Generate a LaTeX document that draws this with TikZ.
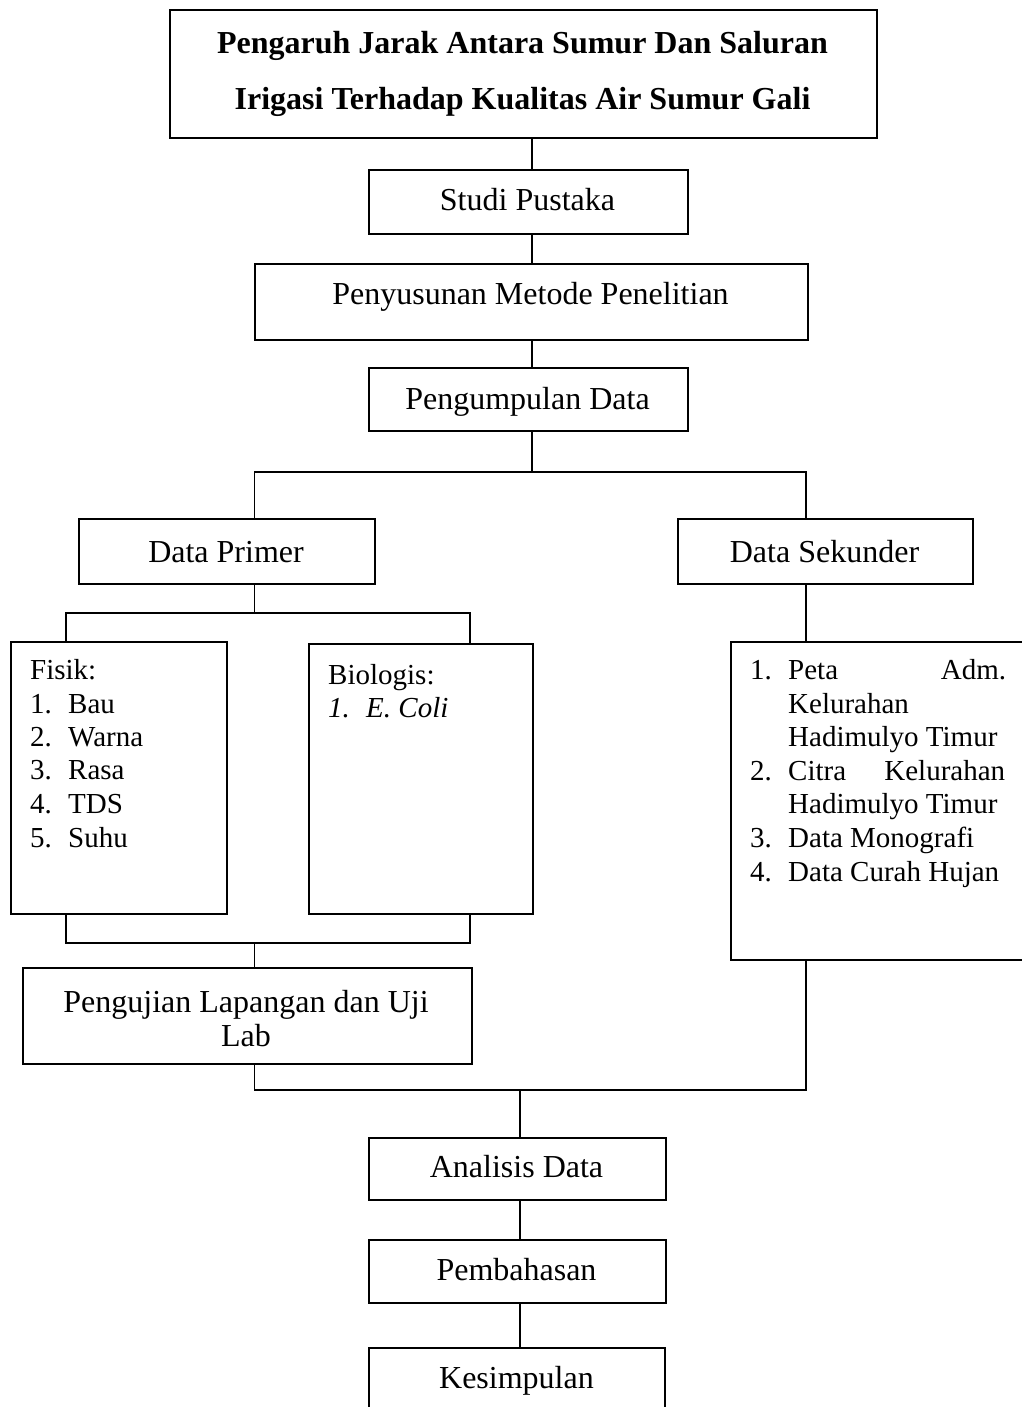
\documentclass[tikz,border=0pt]{standalone}
\usepackage{fontspec}
\setmainfont{Liberation Serif}
\begin{document}
\begin{tikzpicture}[x=1pt,y=-1pt,
  box/.style={draw,line width=1.6pt,inner sep=0pt,anchor=north west},
  conn/.style={line width=1.6pt},
  lbl/.style={inner sep=0pt,anchor=base,font=\fontsize{32}{34}\selectfont},
  ttl/.style={inner sep=0pt,anchor=base,font=\fontsize{32}{34}\selectfont\bfseries},
  itm/.style={inner sep=0pt,anchor=base west,font=\fontsize{29}{34}\selectfont}]
\useasboundingbox (0,0) rectangle (1021,1407);

% boxes
\node[box,minimum width=707pt,minimum height=128pt] (title) at (169,9) {};
\node[box,minimum width=319pt,minimum height=64pt] (studi) at (368,169) {};
\node[box,minimum width=553pt,minimum height=76pt] (penyusunan) at (254,263) {};
\node[box,minimum width=319pt,minimum height=63pt] (pengumpulan) at (368,367) {};
\node[box,minimum width=296pt,minimum height=65pt] (primer) at (78,518) {};
\node[box,minimum width=295pt,minimum height=65pt] (sekunder) at (677,518) {};
\node[box,minimum width=216pt,minimum height=272pt] (fisik) at (10,641) {};
\node[box,minimum width=224pt,minimum height=270pt] (bio) at (308,643) {};
\node[box,minimum width=300pt,minimum height=318pt] (seklist) at (730,641) {};
\node[box,minimum width=449pt,minimum height=96pt] (uji) at (22,967) {};
\node[box,minimum width=297pt,minimum height=62pt] (analisis) at (368,1137) {};
\node[box,minimum width=297pt,minimum height=63pt] (pembahasan) at (368,1239) {};
\node[box,minimum width=296pt,minimum height=100pt] (kesimpulan) at (368,1347) {};

% box texts
\node[ttl] (t-title1) at (522.5,54) {Pengaruh Jarak Antara Sumur Dan Saluran};
\node[ttl] (t-title2) at (522.5,110) {Irigasi Terhadap Kualitas Air Sumur Gali};
\node[lbl] (t-studi) at (527.5,210) {Studi Pustaka};
\node[lbl] (t-peny) at (530.5,304) {Penyusunan Metode Penelitian};
\node[lbl] (t-peng) at (527.5,409) {Pengumpulan Data};
\node[lbl] (t-primer) at (226,562) {Data Primer};
\node[lbl] (t-sekunder) at (824.5,562) {Data Sekunder};
\node[lbl] (t-uji1) at (246,1012) {Pengujian Lapangan dan Uji};
\node[lbl] (t-uji2) at (246,1046) {Lab};
\node[lbl] (t-analisis) at (516.5,1177) {Analisis Data};
\node[lbl] (t-pembahasan) at (516.5,1280) {Pembahasan};
\node[lbl] (t-kesimpulan) at (516.5,1388) {Kesimpulan};

% Fisik list
\node[itm] (f0) at (30,679) {Fisik:};
\foreach \n/\t/\y in {1/Bau/713,2/Warna/746,3/Rasa/779,4/TDS/813,5/Suhu/847}{
  \node[itm] (fn\n) at (30,\y) {\n.};
  \node[itm] (ft\n) at (68,\y) {\t};
}

% Biologis list
\node[itm] (b0) at (328,684) {Biologis:};
\node[itm] (bn1) at (328,717) {\textit{1.}};
\node[itm] (bt1) at (366,717) {\textit{E. Coli}};

% Sekunder list
\node[itm] (sn1) at (750,679) {1.};
\node[itm] (st1a) at (788,679) {\makebox[218pt][s]{Peta\hfill Adm.}};
\node[itm] (st1b) at (788,713) {Kelurahan};
\node[itm] (st1c) at (788,746) {Hadimulyo Timur};
\node[itm] (sn2) at (750,780) {2.};
\node[itm] (st2a) at (788,780) {\makebox[217pt][s]{Citra\hfill Kelurahan}};
\node[itm] (st2b) at (788,813) {Hadimulyo Timur};
\node[itm] (sn3) at (750,847) {3.};
\node[itm] (st3) at (788,847) {Data Monografi};
\node[itm] (sn4) at (750,881) {4.};
\node[itm] (st4) at (788,881) {Data Curah Hujan};

% connector guide coordinates
\coordinate (cx) at (532,0);
\coordinate (pcx) at (254.5,0);
\coordinate (scx) at (806,0);
\coordinate (fx) at (66,0);
\coordinate (bx) at (470,0);
\coordinate (ax) at (520,0);
\coordinate (j1) at (532,472);
\coordinate (j2) at (254.5,613);
\coordinate (j3) at (254.5,943);
\coordinate (j4) at (254.5,1090);
\coordinate (j5) at (520,1090);

% connectors
\draw[conn] (title.south -| cx) -- (studi.north -| cx);
\draw[conn] (studi.south -| cx) -- (penyusunan.north -| cx);
\draw[conn] (penyusunan.south -| cx) -- (pengumpulan.north -| cx);
\draw[conn] (pengumpulan.south -| cx) -- (j1);
\draw[conn] (primer.north -| pcx) |- (j1) -| (sekunder.north -| scx);
\draw[conn] (primer.south -| pcx) -- (j2);
\draw[conn] (fisik.north -| fx) |- (j2) -| (bio.north -| bx);
\draw[conn] (sekunder.south -| scx) -- (seklist.north -| scx);
\draw[conn] (fisik.south -| fx) |- (j3) -| (bio.south -| bx);
\draw[conn] (j3) -- (uji.north -| pcx);
\draw[conn] (uji.south -| pcx) -- (j4) -- (j4 -| scx) -- (seklist.south -| scx);
\draw[conn] (j5) -- (analisis.north -| ax);
\draw[conn] (analisis.south -| ax) -- (pembahasan.north -| ax);
\draw[conn] (pembahasan.south -| ax) -- (kesimpulan.north -| ax);
\end{tikzpicture}
\end{document}
